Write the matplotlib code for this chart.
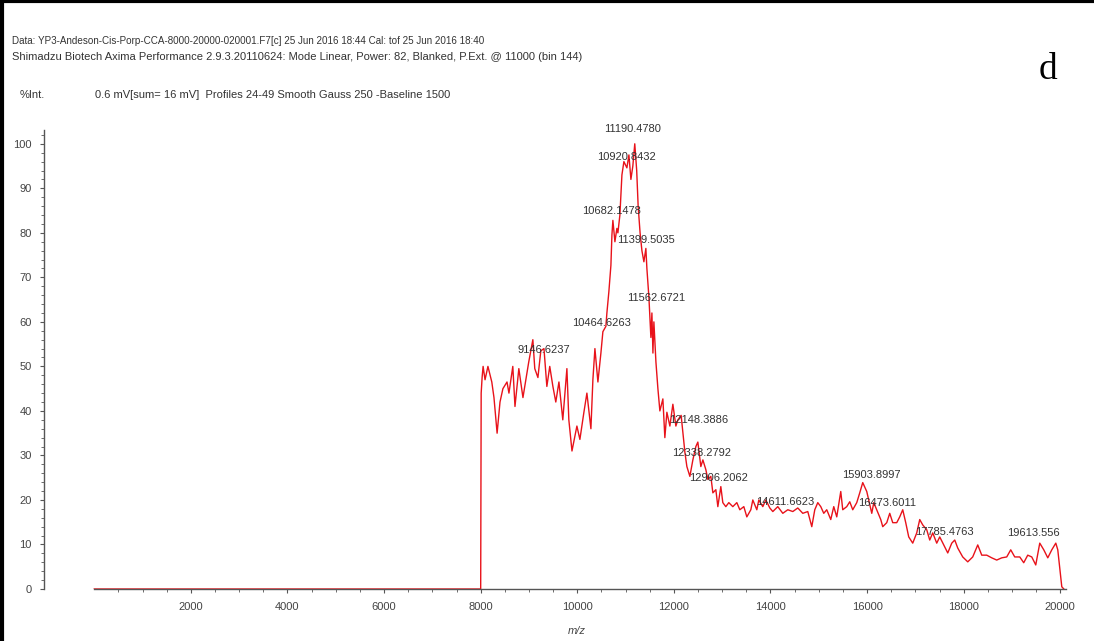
import matplotlib
matplotlib.use("Agg")
import matplotlib.pyplot as plt
from matplotlib.ticker import MultipleLocator, FixedLocator
from matplotlib.lines import Line2D

# spectrum trace (m/z, %Int)
mz = [0, 8000, 8010, 8030, 8050, 8090, 8150, 8230, 8275, 8340, 8400, 8460, 8545, 8585,
      8665, 8710, 8790, 8875, 8935, 8995, 9080, 9120, 9185, 9245, 9310, 9370, 9430,
      9495, 9555, 9620, 9700, 9785, 9825, 9890, 9992, 10054, 10137, 10199, 10282,
      10323, 10365, 10427, 10489, 10530, 10592, 10613, 10654, 10696, 10717, 10737,
      10779, 10820, 10841, 10882, 10924, 10965, 11027, 11069, 11110, 11150, 11190,
      11230, 11260, 11300, 11338, 11379, 11420, 11441, 11483, 11524, 11545, 11566,
      11586, 11628, 11669, 11710, 11772, 11813, 11855, 11917, 11979, 12041, 12083,
      12150, 12228, 12269, 12331, 12393, 12455, 12496, 12558, 12600, 12662, 12703,
      12765, 12807, 12869, 12910, 12972, 13013, 13075, 13137, 13220, 13303, 13365,
      13448, 13510, 13593, 13634, 13717, 13758, 13841, 13903, 13986, 14048, 14151,
      14255, 14358, 14462, 14565, 14669, 14772, 14855, 14917, 14979, 15041, 15103,
      15165, 15248, 15310, 15372, 15455, 15496, 15579, 15641, 15703, 15786, 15848,
      15910, 15993, 16034, 16097, 16138, 16200, 16283, 16324, 16407, 16469, 16531,
      16614, 16676, 16738, 16800, 16862, 16945, 17028, 17090, 17152, 17235, 17297,
      17359, 17442, 17504, 17587, 17670, 17753, 17815, 17877, 17980, 18084, 18187,
      18291, 18374, 18477, 18581, 18684, 18788, 18891, 18974, 19057, 19161, 19243,
      19326, 19409, 19492, 19575, 19658, 19741, 19824, 19907, 19948, 20031, 20073]
intensity = [0, 0, 44, 47.6, 50, 47, 50, 46.5, 43, 35, 42, 45, 46.5, 44,
             50, 41, 49.5, 43, 47, 51, 56, 49.5, 47.5, 53.5, 54, 45.5, 50,
             45.5, 42, 46.5, 38, 49.5, 38, 31, 36.6, 33.6, 39.7, 44, 36,
             47, 54, 46.5, 53, 57.8, 59, 62, 66.8, 72.7, 79.5, 82.8,
             78, 81, 80, 84, 93, 96, 94.6, 97.5, 92, 95, 100,
             94, 86, 80, 76, 73.5, 76.5, 72, 65.5, 56.5, 62, 53,
             60, 51, 45, 40, 42.7, 34, 39.7, 36.6, 41.5, 36.6, 38,
             39, 30.7, 27.5, 25.3, 29, 32, 33, 27.5, 29, 26.8, 24.6,
             25.3, 21.6, 22.3, 18.5, 23, 19.4, 18.5, 19.4, 18.5, 19.4, 17.8,
             18.5, 16.2, 17.8, 20, 17.8, 20, 18.5, 20, 18.2, 17.4, 18.5,
             17, 17.8, 17.4, 18.2, 17, 17.4, 14, 17.8, 19.4, 18.5, 17,
             17.8, 15.6, 18.5, 16.2, 21.9, 17.8, 18.5, 19.6, 17.8, 19.4, 21.6,
             23.9, 21.9, 20, 17, 19.4, 17.8, 15.6, 14, 14.9, 17, 14.9,
             14.9, 16.2, 17.8, 14.9, 11.7, 10.3, 12.6, 15.6, 14.4, 13.3, 11,
             12.6, 10.3, 11.7, 9.9, 8.1, 10.3, 11, 9.2, 7.2, 6.1, 7.2,
             9.9, 7.6, 7.6, 7, 6.5, 7, 7.2, 8.8, 7.2, 7.2, 5.9,
             7.6, 7.2, 5.4, 10.3, 8.8, 7, 8.8, 10.3, 8.8, 0.5, 0]

peak_labels = ["9146.6237", "10464.6263", "10682.1478", "10920.8432", "11190.4780",
               "11399.5035", "11562.6721", "12148.3886", "12338.2792", "12906.2062",
               "14611.6623", "15903.8997", "16473.6011", "17785.4763", "19613.556"]

header1 = ("Data: YP3-Andeson-Cis-Porp-CCA-8000-20000-020001.F7[c] 25 Jun 2016 18:44 "
           "Cal: tof 25 Jun 2016 18:40")
header2 = ("Shimadzu Biotech Axima Performance 2.9.3.20110624: Mode Linear, Power: 82, "
           "Blanked, P.Ext. @ 11000 (bin 144)")
header3 = "0.6 mV[sum= 16 mV]  Profiles 24-49 Smooth Gauss 250 -Baseline 1500"

# where the software put each label (m/z centre, %Int)
label_pos = [(9309, 53.7), (10509, 59.8), (10716, 84.9), (11027, 97.1), (11151, 103.4),
             (11420, 78.4), (11627, 65.4), (12517, 38.0), (12579, 30.6), (12931, 25.0),
             (14298, 19.6), (16078, 25.6), (16409, 19.3), (17610, 12.8), (19451, 12.6)]

narrow = ["Liberation Sans Narrow", "Liberation Sans", "DejaVu Sans"]

fig = plt.figure(figsize=(10.94, 6.41), dpi=100)
ax = fig.add_axes([44 / 1094, 52 / 641, 1026 / 1094, 459 / 641])

ax.plot(mz, intensity, color="#e8121a", lw=1.0)
ax.set_xlim(-1041, 20201)
ax.set_ylim(0, 103.1)

for txt, (lx, ly) in zip(peak_labels, label_pos):
    ax.text(lx, ly, txt, ha="center", va="center", fontsize=8, color="#333333",
            family=narrow, clip_on=False)

for s in ["top", "right"]:
    ax.spines[s].set_visible(False)
ax.spines["bottom"].set_bounds(0, 20120)
ax.spines["left"].set_bounds(0, 103.1)
for s in ["bottom", "left"]:
    ax.spines[s].set_color("#555555")
    ax.spines[s].set_linewidth(1.0)

ax.set_xticks(list(range(2000, 20001, 2000)))
ax.xaxis.set_minor_locator(FixedLocator(list(range(500, 20001, 500))))
ax.yaxis.set_major_locator(MultipleLocator(10))
ax.yaxis.set_minor_locator(FixedLocator(list(range(0, 103, 2))))
ax.tick_params(axis="both", which="major", length=3, width=0.8, color="#555555",
               labelsize=8, labelcolor="#444444", pad=6)
ax.tick_params(axis="both", which="minor", length=2, width=0.6, color="#555555")
ax.tick_params(axis="x", which="both", direction="out")
for lab in ax.get_xticklabels() + ax.get_yticklabels():
    lab.set_family(narrow)

fig.text(577 / 1094, 1 - 631 / 641, "m/z", ha="center", va="center", fontsize=8,
         style="italic", color="#444444", family=narrow)
fig.text(12 / 1094, 1 - 41 / 641, header1, ha="left", va="center", fontsize=7.1,
         color="#333333", family=narrow)
fig.text(12 / 1094, 1 - 57 / 641, header2, ha="left", va="center", fontsize=8,
         color="#333333", family=narrow)
fig.text(20 / 1094, 1 - 95 / 641, "%Int.", ha="left", va="center", fontsize=8,
         color="#333333", family=narrow)
fig.text(95 / 1094, 1 - 95 / 641, header3, ha="left", va="center", fontsize=8,
         color="#333333", family=narrow)
fig.text(1048 / 1094, 1 - 70 / 641, "d", ha="center", va="center", fontsize=27,
         color="black", family=["Liberation Serif", "DejaVu Serif"])

# dark frame on left and top edges of the scanned picture
fig.add_artist(Line2D([0.002, 0.002], [0, 1], color="black", lw=3,
                      transform=fig.transFigure))
fig.add_artist(Line2D([0, 1], [0.998, 0.998], color="black", lw=3,
                      transform=fig.transFigure))

fig.savefig("out.png", dpi=100)
